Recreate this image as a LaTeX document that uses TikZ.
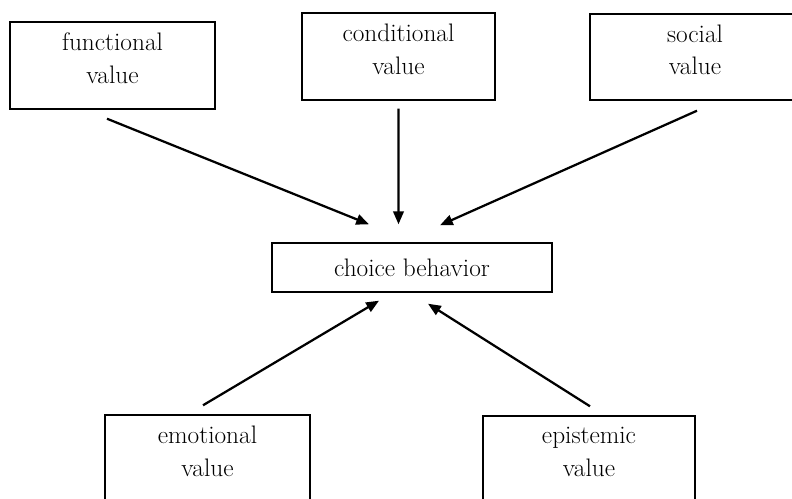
\documentclass[tikz,border=0pt]{standalone}
\usetikzlibrary{arrows.meta, calc}

\newcommand{\vfont}{\fontsize{18}{23.4}\selectfont}

\tikzset{
  valbox/.style={draw, line width=1pt, minimum height=2.175cm, inner sep=0pt},
  vlabel/.style={align=center, font=\vfont, yshift=0.18cm},
  arr/.style={-{Triangle[length=0.32cm, width=0.26cm]}, line width=1.6pt}
}

\begin{document}
\begin{tikzpicture}[x=0.025cm, y=-0.025cm]

% Frame (pixel units, y downwards)
\useasboundingbox (0,0) rectangle (792,499);

% Top row
\node[valbox, minimum width=5.125cm, label={[vlabel]center:functional\\value}] (fv) at (112.5,65.5) {};
\node[valbox, minimum width=4.825cm, label={[vlabel]center:conditional\\value}] (cv) at (398.5,56.5) {};
\node[valbox, minimum width=5.25cm, minimum height=2.15cm, label={[vlabel]center:social\\value}] (sv) at (695,57) {};

% Centre
\node[draw, line width=1pt, minimum width=7cm, minimum height=1.225cm, inner sep=0pt, font=\vfont] (cb) at (412,267.5) {choice behavior};

% Bottom row
\node[valbox, minimum width=5.125cm, label={[vlabel]center:emotional\\value}] (ev) at (207.5,458.5) {};
\node[valbox, minimum width=5.3cm, label={[vlabel]center:epistemic\\value}] (pv) at (589,459.5) {};

% Arrows into choice behavior
\draw[arr] ($(fv.south)+(-5.5,9)$) -- ($(cb.north)+(-43,-18)$);
\draw[arr] ($(cv.south)+(0,8)$) -- ($(cb.north)+(-13.5,-18)$);
\draw[arr] ($(sv.south)+(2,10)$) -- ($(cb.north)+(28,-17)$);
\draw[arr] ($(ev.north)+(-4.5,-9)$) -- ($(cb.south)+(-33,8)$);
\draw[arr] ($(pv.north)+(1,-9)$) -- ($(cb.south)+(16,11)$);

\end{tikzpicture}
\end{document}
